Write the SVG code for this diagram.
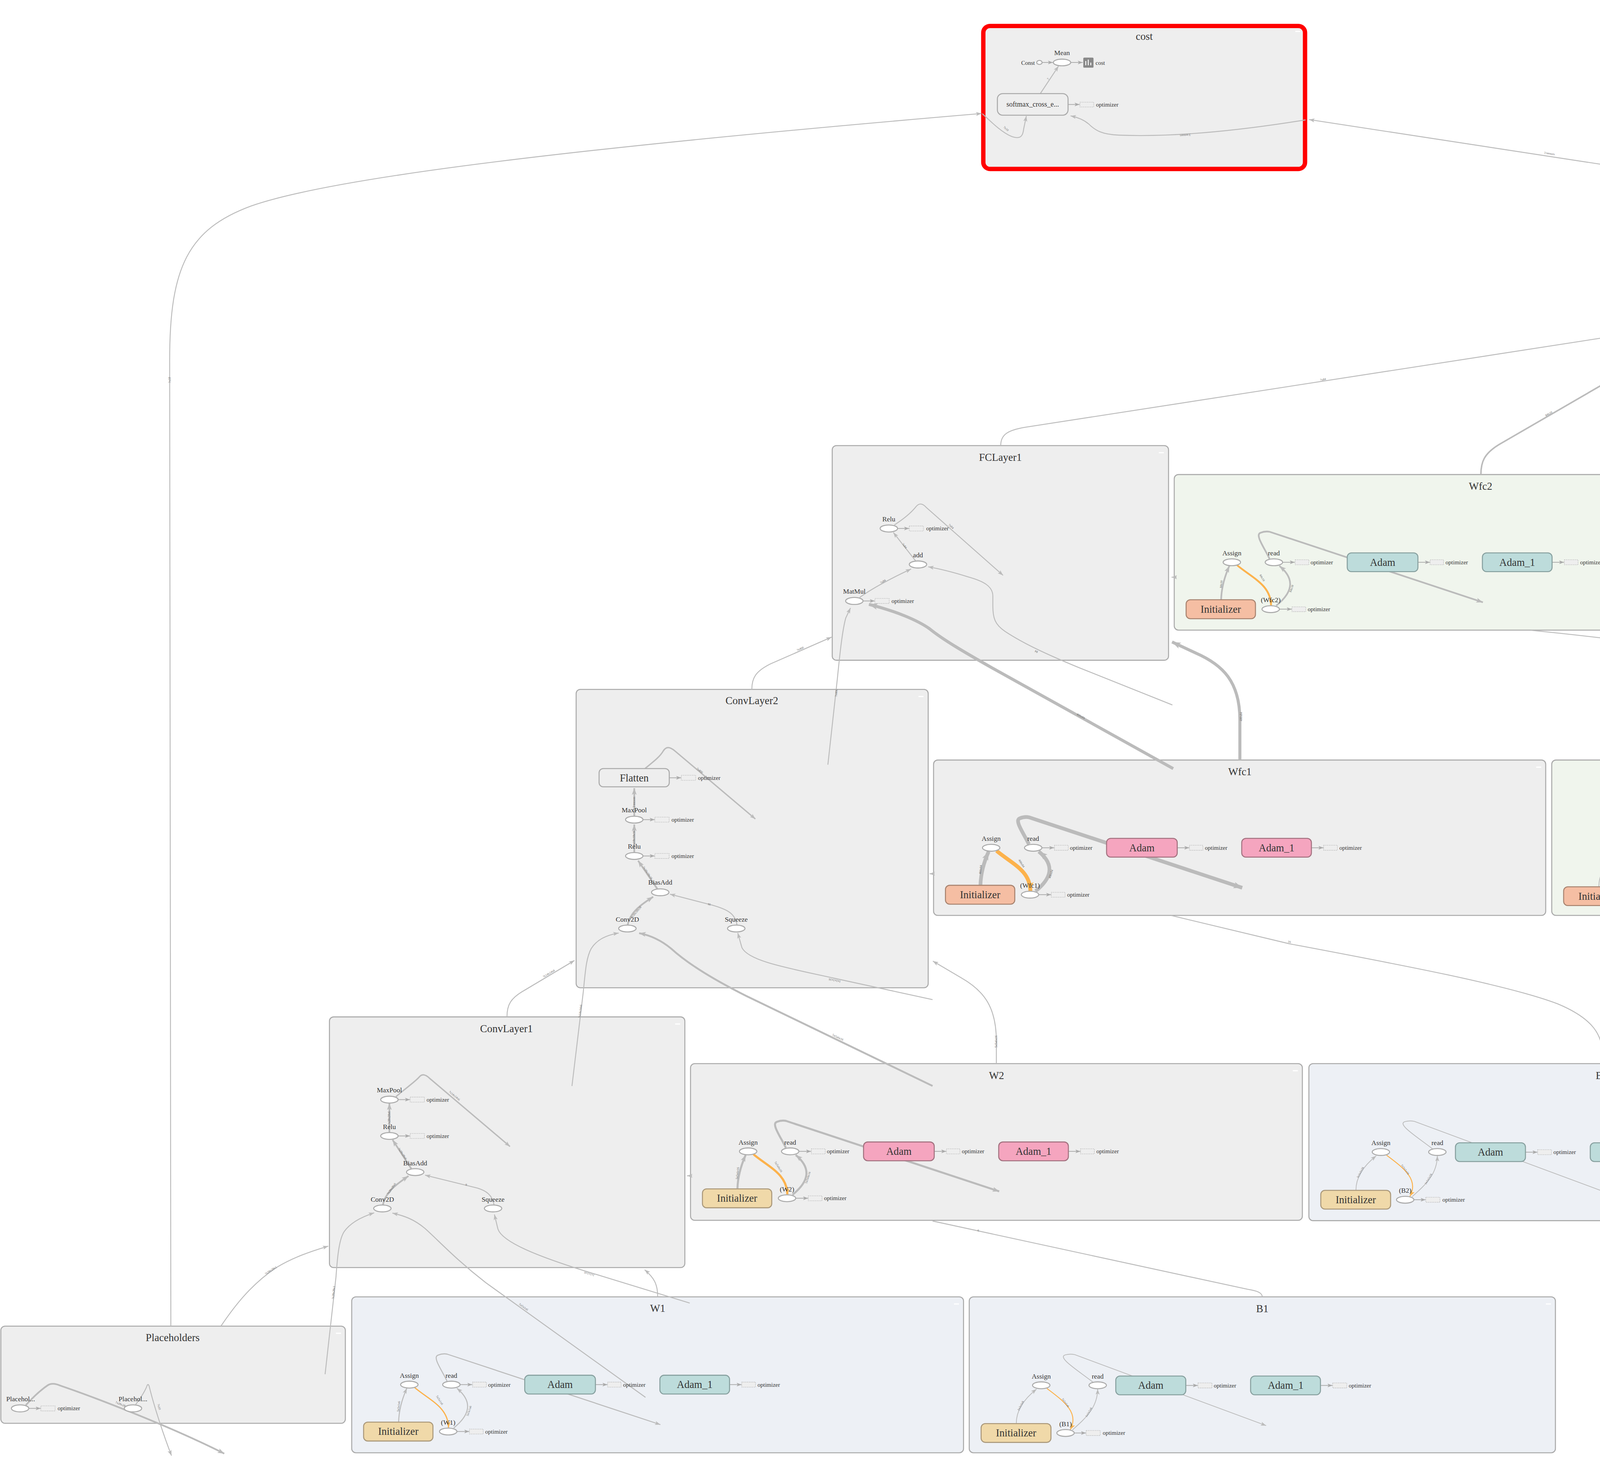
<svg xmlns="http://www.w3.org/2000/svg" width="6723" height="3782" viewBox="0 0 6723 3782">
<style>
text{font-family:"Liberation Serif","Times New Roman",serif}
.g0{fill:#eeeeee;stroke:#aaaaaa;stroke-width:0.6}
.gg{fill:#f0f5ed;stroke:#aaaaaa;stroke-width:0.6}
.gb{fill:#edf0f5;stroke:#aaaaaa;stroke-width:0.6}
.ttl{font-size:6.3px;fill:#333;text-anchor:middle}
.mi{fill:#ffffff}
.op{fill:#ffffff;stroke:#aaaaaa;stroke-width:0.6}
.lbl{font-size:4.1px;fill:#333;text-anchor:middle}
.ann{font-size:3.5px;fill:#333}
.annr{fill:#eeeeee;stroke:#b8b8b8;stroke-width:0.3;stroke-dasharray:0.6 0.45}
.mn{font-size:6.2px;fill:#333;text-anchor:middle}
.meta{fill:#eeeeee;stroke:#aaaaaa;stroke-width:0.6}
.teal{fill:#bddcdb;stroke:#87a09f;stroke-width:0.6}
.pink{fill:#f5a5bf;stroke:#a3717f;stroke-width:0.6}
.sal{fill:#f5bea3;stroke:#a8836f;stroke-width:0.6}
.tan{fill:#f0d9a9;stroke:#aa987a;stroke-width:0.6}
.e{fill:none;stroke:#bbbbbb;stroke-width:0.55}
.eo{fill:none;stroke:#fcb24c;stroke-width:0.7}
.n{fill:none;stroke:#aaaaaa;stroke-width:0.45}
.el{font-size:1.8px;fill:#666;text-anchor:middle}
.oi{font-size:3.45px;fill:#333;text-anchor:end}
</style>
<defs>
<marker id="a" viewBox="0 0 10 10" refX="10" refY="5" markerUnits="userSpaceOnUse" markerWidth="3.3" markerHeight="2.4" orient="auto" preserveAspectRatio="none"><path d="M0,0L10,5L0,10L2.5,5z" fill="#bbbbbb"/></marker>
<marker id="m" viewBox="0 0 10 10" refX="10" refY="5" markerUnits="userSpaceOnUse" markerWidth="4" markerHeight="2.9" orient="auto" preserveAspectRatio="none"><path d="M0,0L10,5L0,10L2.5,5z" fill="#bbbbbb"/></marker>
<marker id="A" viewBox="0 0 10 10" refX="10" refY="5" markerUnits="userSpaceOnUse" markerWidth="5.2" markerHeight="3.9" orient="auto" preserveAspectRatio="none"><path d="M0,0L10,5L0,10L2.5,5z" fill="#bbbbbb"/></marker>
<marker id="n" viewBox="0 0 10 10" refX="10" refY="5" markerUnits="userSpaceOnUse" markerWidth="3" markerHeight="2.2" orient="auto" preserveAspectRatio="none"><path d="M0,0L10,5L0,10L2.5,5z" fill="#aaaaaa"/></marker>
<marker id="o" viewBox="0 0 10 10" refX="10" refY="5" markerUnits="userSpaceOnUse" markerWidth="3.6" markerHeight="2.6" orient="auto" preserveAspectRatio="none"><path d="M0,0L10,5L0,10L2.5,5z" fill="#fcb24c"/></marker>
<marker id="O" viewBox="0 0 10 10" refX="10" refY="5" markerUnits="userSpaceOnUse" markerWidth="5.2" markerHeight="3.9" orient="auto" preserveAspectRatio="none"><path d="M0,0L10,5L0,10L2.5,5z" fill="#fcb24c"/></marker>
</defs>
<rect width="6723" height="3782" fill="#ffffff"/>
<g transform="scale(4.2876)">

<g id="clusters">
<g id="cluster-cost"><rect x="587.1" y="15.5" width="192.1" height="85.4" rx="4" fill="#eeeeee" stroke="#ff0000" stroke-width="2.6"/><text class="ttl" x="683.2" y="23.7">cost</text><rect class="mi" x="773.4" y="18.4" width="3" height="0.7"/></g>
<g id="cluster-FCLayer2"><rect class="g0" x="965.2" y="120.6" width="198.9" height="127.9" rx="2.5"/><text class="ttl" x="1064.6" y="129.8">FCLayer2</text><rect class="mi" x="1158.4" y="124.5" width="3" height="0.7"/></g>
<g id="cluster-FCLayer1"><rect class="g0" x="496.9" y="266.1" width="200.8" height="128.2" rx="2.5"/><text class="ttl" x="597.3" y="275.2">FCLayer1</text><rect class="mi" x="691.9" y="270" width="3" height="0.7"/></g>
<g id="cluster-ConvLayer2"><rect class="g0" x="344" y="411.7" width="210.2" height="178.2" rx="2.5"/><text class="ttl" x="448.9" y="420.6">ConvLayer2</text><rect class="mi" x="548.4" y="415.6" width="3" height="0.7"/></g>
<g id="cluster-ConvLayer1"><rect class="g0" x="196.7" y="607.3" width="212.2" height="149.7" rx="2.5"/><text class="ttl" x="302.4" y="616.4">ConvLayer1</text><rect class="mi" x="403.1" y="611.2" width="3" height="0.7"/></g>
<g id="cluster-Placeholders"><rect class="g0" x="0.5" y="792" width="205.7" height="58" rx="2.5"/><text class="ttl" x="103.1" y="801">Placeholders</text><rect class="mi" x="200.6" y="795.9" width="3" height="0.7"/></g>
<g id="cluster-Wfc2"><rect class="gg" x="701.1" y="283.4" width="365.5" height="92.9" rx="2.5"/><text class="ttl" x="884" y="292.4">Wfc2</text><rect class="mi" x="1060.9" y="287.3" width="3" height="0.7"/></g>
<g id="cluster-bfc2"><rect class="gg" x="1070.3" y="283.4" width="350" height="92.9" rx="2.5"/><text class="ttl" x="1245.3" y="292.6">bfc2</text><rect class="mi" x="1414.6" y="287.3" width="3" height="0.7"/></g>
<g id="cluster-Wfc1"><rect class="g0" x="557.4" y="453.9" width="365.5" height="92.8" rx="2.5"/><text class="ttl" x="740.3" y="462.9">Wfc1</text><rect class="mi" x="917.2" y="457.8" width="3" height="0.7"/></g>
<g id="cluster-bfc1"><rect class="gg" x="926.5" y="453.9" width="350.5" height="92.8" rx="2.5"/><text class="ttl" x="1101.7" y="463.1">bfc1</text><rect class="mi" x="1271.3" y="457.8" width="3" height="0.7"/></g>
<g id="cluster-W2"><rect class="g0" x="412.3" y="635.2" width="365.3" height="93.6" rx="2.5"/><text class="ttl" x="595" y="644.3">W2</text><rect class="mi" x="771.9" y="639.1" width="3" height="0.7"/></g>
<g id="cluster-B2"><rect class="gb" x="781.5" y="635.2" width="349.8" height="93.8" rx="2.5"/><text class="ttl" x="956.4" y="644.5">B2</text><rect class="mi" x="1125.6" y="639.1" width="3" height="0.7"/></g>
<g id="cluster-W1"><rect class="gb" x="210" y="774.5" width="365.3" height="93.1" rx="2.5"/><text class="ttl" x="392.7" y="783.5">W1</text><rect class="mi" x="569.6" y="778.4" width="3" height="0.7"/></g>
<g id="cluster-B1"><rect class="gb" x="578.7" y="774.5" width="350" height="93.1" rx="2.5"/><text class="ttl" x="753.7" y="783.7">B1</text><rect class="mi" x="923" y="778.4" width="3" height="0.7"/></g>
</g>

<g id="connectors">
<path class="e" d="M102,792L101.3,215C101.3,160 112,137 150,123C190,109 300,92 586,67.8" marker-end="url(#a)"/>
<text class="el" transform="translate(101.9,227) rotate(-90)">?x10</text>
<path class="e" d="M131.9,792C140,780 150,767 165,757C175,751 185,747.5 196,744.2" marker-end="url(#a)"/>
<text class="el" transform="translate(162,759.2) rotate(-33)">?x28x28x1</text>
<path class="e" d="M302.7,607.3C302.7,600 305,596 313,591.5L343,573.6" marker-end="url(#a)"/>
<text class="el" transform="translate(328,581.9) rotate(-31)">?x14x14x6</text>
<path class="e" d="M448.9,411.7C448.9,405 451,401 460,396.5L496.5,380.5" marker-end="url(#a)"/>
<text class="el" transform="translate(478,388) rotate(-24)">?x400</text>
<path class="e" d="M597.5,266.1C597.5,260 601,257 612,255.2L964.5,200.6" marker-end="url(#a)"/>
<text class="el" transform="translate(790,227.2) rotate(-8.8)">?x84</text>
<path class="e" d="M1064.5,120.6C1064.5,116 1062,114.5 1055,113.3L781.6,71.4" marker-end="url(#a)"/>
<text class="el" transform="translate(925,92.2) rotate(8.7)">3 tensors</text>
<path class="e" style="stroke-width:0.9" d="M884.2,283.4C884.2,276 886,271 895,265.5L964.4,225.3" marker-end="url(#m)"/>
<text class="el" transform="translate(925,247.6) rotate(-30)">84x10</text>
<path class="e" d="M1245.3,283.4C1245.3,273 1241,267 1230,261L1166,225.4" marker-end="url(#a)"/>
<text class="el" transform="translate(1200,243.9) rotate(29)">10</text>
<path class="e" style="stroke-width:1.2" d="M962.9,301.7C975,285 1005,248 1014,234C1019,226 1012,222 983.6,215.4" marker-end="url(#m)"/>
<text class="el" transform="translate(1002.5,250.3) rotate(-55)">84x10</text>
<path class="e" d="M962.5,278C965,262 970,238 972.5,228C973.5,223 974.8,219.5 975.9,216.5" marker-end="url(#a)"/>
<text class="el" transform="translate(968.6,247) rotate(-79)">?x84</text>
<path class="e" d="M1167.5,301.5L1080.4,245.1C1068,237 1059.6,231 1059.6,222L1059.5,214C1059.5,207 1052,204 1038,199.6C1025,196 1013,194 1005.1,193.3" marker-end="url(#a)"/>
<text class="el" transform="translate(1080.4,245.4) rotate(213)">10</text>
<path class="e" d="M700,421L644.4,398.8C628,392 612,385 600,377C594,373 592.8,369 592.8,362L592.8,356C592.8,350 587,347 578,344.5C570,342 560,339.5 554.2,338.5" marker-end="url(#a)"/>
<text class="el" transform="translate(619,388.6) rotate(205)">84</text>
<path class="e" style="stroke-width:1.8" d="M700.5,459L592.2,398.8C575,389 563,382 555,375.5C548,370.5 535,365 518.8,360.9" marker-end="url(#A)"/>
<text class="el" transform="translate(645,428.2) rotate(29)">400x84</text>
<path class="e" d="M494.3,456.7L500,405C501.5,390 503,376 505,369L507.8,363.1" marker-end="url(#a)"/>
<text class="el" transform="translate(499.9,414) rotate(-84)">?x400</text>
<path class="e" style="stroke-width:1.8" d="M740.3,453.9L740.3,430C740.3,407 730,397 714,390L699.8,383.4" marker-end="url(#A)"/>
<text class="el" transform="translate(741.6,428) rotate(-90)">400x84</text>
<path class="e" d="M1101.7,453.9L1101.7,444C1101.7,425 1090,412 1065,401C1035,390 970,382 914,376.4"/>
<text class="el" transform="translate(1000,385.4) rotate(7)">84</text>
<path class="e" d="M702.5,344.7L699.5,344.7" marker-end="url(#a)"/>
<path class="e" d="M956.5,635.2L956.5,628C956.5,616 948,607 930,599.5C900,588 830,575 769.7,563.6L699.5,546.8"/>
<text class="el" transform="translate(769.7,563) rotate(13.5)">16</text>
<path class="e" d="M558,521.8L555,521.8" marker-end="url(#a)"/>
<path class="e" d="M594.9,635.2L594.9,622C594.9,602 588,592 574,584L557,574" marker-end="url(#a)"/>
<text class="el" transform="translate(595.5,622) rotate(-90)">5x5x6x16</text>
<path class="e" style="stroke-width:1.1" d="M556.8,648.5L445.4,594.7C425,584.5 410,575 400.6,566.4C394,561 388,558.5 381.6,557.3" marker-end="url(#m)"/>
<text class="el" transform="translate(500,620) rotate(25.8)">5x5x6x16</text>
<path class="e" d="M556.8,597L498.5,584.3C470,578 447,574 443,566L440.5,557.2" marker-end="url(#a)"/>
<text class="el" transform="translate(498.5,585) rotate(192)">1x1x1x16</text>
<path class="e" d="M341.5,648.6L348.3,592C349.5,580 350,572 353,566.5C356.5,561 362,558.5 369.4,557.2" marker-end="url(#a)"/>
<text class="el" transform="translate(347,604) rotate(-83)">?x14x14x6</text>
<path class="e" d="M194.1,820.7L200.6,762.7C201.5,750 202.5,740 205.5,735.5C209,730.5 215,727 223.4,724.3" marker-end="url(#a)"/>
<text class="el" transform="translate(199.7,772) rotate(-84)">?x28x28x1</text>
<path class="e" style="stroke-width:0.6" d="M385.4,834.5L290,766C272,752 262,741 253.7,733.6C247,728 241,726 234.3,724.5" marker-end="url(#a)"/>
<text class="el" transform="translate(312.3,781) rotate(36)">5x5x1x6</text>
<path class="e" d="M411.8,778.2L348.8,758.9C322,750.5 300,742 297.3,734L295.2,725.3" marker-end="url(#a)"/>
<text class="el" transform="translate(352,760.3) rotate(197)">1x1x1x6</text>
<path class="e" d="M392.7,774.5C392.7,767 390.5,763 384.9,758.3" marker-end="url(#a)"/>
<path class="e" d="M753.7,774.5C753.5,772 751,771 745,770L556.8,729.2"/>
<text class="el" transform="translate(584,735.4) rotate(12)">6</text>
<path class="e" d="M413.2,702.2L410.2,702.2" marker-end="url(#a)"/>

<path class="e" d="M586.5,67.9C592,73 598,79 604,81.5C609.5,83.5 610.8,81 611.2,77L612.8,69.3" marker-end="url(#a)"/>
<text class="el" transform="translate(600.3,77.3) rotate(42)">?x10</text>
<path class="e" d="M779.5,71.6C740,78 700,82 668,80.7C658,80.3 654,78 650,74C647,71.5 643,70 639.2,69.2" marker-end="url(#a)"/>
<text class="el" transform="translate(707.6,80.2) rotate(175)">3 tensors</text>
<path class="e" d="M621.2,55.8L632,39.5" marker-end="url(#a)"/>
<text class="el" transform="translate(626.2,47.4) rotate(-56)">?</text>
<path class="n" d="M622.3,37.3H628.7" marker-end="url(#n)"/>
<path class="n" d="M639.4,37.3H646.5" marker-end="url(#n)"/>
<path class="n" d="M637.8,62.4H644.6" marker-end="url(#n)"/>

<path class="e" d="M980.5,211.5C988,205.5 995,200 997,194.1" marker-end="url(#a)"/>
<text class="el" transform="translate(990.5,203.3) rotate(-45)">?x10</text>
<path class="e" d="M999.5,189.7C1004,183 1010,177.5 1015.8,172.6" marker-end="url(#a)"/>
<text class="el" transform="translate(1005.5,180.3) rotate(-52)">?x10</text>
<path class="e" d="M1003.4,189.6C1018,183.5 1028.8,178 1028.8,168L1028.8,156L1065.5,198.2" marker-end="url(#a)"/>
<text class="el" transform="translate(1032.6,160.2) rotate(49)">3 tensors</text>
<path class="n" d="M1008.2,170.2H1014.7" marker-end="url(#n)"/>
<path class="n" d="M1003.4,191.8H1010.4" marker-end="url(#n)"/>
<path class="n" d="M982.8,213.4H989.8" marker-end="url(#n)"/>

<path class="e" d="M513.3,356.8C522,350.5 534,344.5 544,339.8" marker-end="url(#a)"/>
<text class="el" transform="translate(527.5,347.8) rotate(-30)">?x84</text>
<path class="e" d="M546.7,335L533.4,318" marker-end="url(#a)"/>
<text class="el" transform="translate(539.6,326.3) rotate(52)">?x84</text>
<path class="e" d="M534,313.5C541,309 545,305 547,302.5C548.8,300.3 550.8,300.6 553,303L598.9,343.6" marker-end="url(#a)"/>
<text class="el" transform="translate(567.5,314.8) rotate(41.5)">?x84</text>
<path class="n" d="M536,315.6H542.8" marker-end="url(#n)"/>
<path class="n" d="M515.4,358.9H522.3" marker-end="url(#n)"/>

<path class="e" style="stroke-width:1" d="M378.7,487.3V470.7" marker-end="url(#m)"/>
<text class="el" transform="translate(379.3,479) rotate(-90)">3 tensors</text>
<path class="e" style="stroke-width:1" d="M378.7,509V492.4" marker-end="url(#m)"/>
<text class="el" transform="translate(379.3,500.6) rotate(-90)">?x10x10x16</text>
<path class="e" style="stroke-width:1" d="M392.5,530.9L381,514" marker-end="url(#m)"/>
<text class="el" transform="translate(386.2,521.6) rotate(56)">?x10x10x16</text>
<path class="e" style="stroke-width:1" d="M374.8,552.4C376,545 383,540 390,535.6" marker-end="url(#m)"/>
<text class="el" transform="translate(380.2,545.2) rotate(-50)">?x10x10x16</text>
<path class="e" d="M440,552.3C439,545.5 434,543 425,540.5L400,534" marker-end="url(#a)"/>
<text class="el" transform="translate(423.7,539.6) rotate(195)">16</text>
<path class="e" style="stroke-width:0.8" d="M385.2,458.9C390,455 394,452 396,448.5C397.8,445.6 400,446 403,448.5L451,489.1" marker-end="url(#a)"/>
<text class="el" transform="translate(417.4,460.6) rotate(40)">?x400</text>
<path class="n" d="M399.6,464.5H406.7" marker-end="url(#n)"/>
<path class="n" d="M383.9,489.5H390.9" marker-end="url(#n)"/>
<path class="n" d="M383.9,511.2H390.9" marker-end="url(#n)"/>

<path class="e" style="stroke-width:1" d="M232.5,676.2V658.9" marker-end="url(#m)"/>
<text class="el" transform="translate(233.1,667.6) rotate(-90)">?x28x28x6</text>
<path class="e" style="stroke-width:1" d="M245.6,698L234.4,680.7" marker-end="url(#m)"/>
<text class="el" transform="translate(239.8,689.3) rotate(57)">?x28x28x6</text>
<path class="e" style="stroke-width:1" d="M228.6,719.6C230,712 237,707 243.9,702.3" marker-end="url(#m)"/>
<text class="el" transform="translate(234.2,710.3) rotate(-55)">?x28x28x6</text>
<path class="e" d="M295,719.6C294,713.5 290,711 285,709.5L253.8,701.8" marker-end="url(#a)"/>
<text class="el" transform="translate(278.5,707) rotate(195)">6</text>
<path class="e" style="stroke-width:0.8" d="M236.4,655C242,650 248,646 250.5,643C252,641.3 254,641.6 256.3,643.8L304.5,684.7" marker-end="url(#a)"/>
<text class="el" transform="translate(271,654.8) rotate(40)">?x14x14x6</text>
<path class="n" d="M237.7,656.7H244.8" marker-end="url(#n)"/>
<path class="n" d="M237.7,678.4H244.8" marker-end="url(#n)"/>

<path class="e" style="stroke-width:1" d="M15.4,839.2C21,833 26,829 28.5,827.3C30.5,826 33,826.2 36,827.5C55,834 100,851 133.9,868.1" marker-end="url(#m)"/>
<text class="el" transform="translate(72.5,839.4) rotate(22)">?x28x28x1</text>
<path class="e" d="M81,838.8C84,835 87,830 87.8,827.5C88.2,826.4 88.7,826.7 89.1,828C92,840 98,858 102.4,869.3" marker-end="url(#a)"/>
<text class="el" transform="translate(94.4,840.3) rotate(76)">?x10</text>
<path class="n" d="M17.2,841.1H24.3" marker-end="url(#n)"/>

<path class="n" d="M1490.4,15.95L1497.1,16.9" marker-end="url(#n)"/>
<path class="n" d="M1490.4,20.8L1497.1,21.2" marker-end="url(#n)"/>
<path class="n" d="M1490.4,25.66L1497.1,25.1" marker-end="url(#n)"/>
<path class="n" d="M1490.4,30.55L1497.1,28.6" marker-end="url(#n)"/>
<path class="n" d="M1490.4,35.3L1497.1,32.6" marker-end="url(#n)"/>
<path class="n" d="M1490.7,39.1L1497.1,36.4" marker-end="url(#n)"/>

<g id="edges-Wfc2" transform="translate(701.1,283.4)">
<path class="e" style="stroke-width:1" d="M28,74.8C28.2,67 30.5,60 32.9,54.6" marker-end="url(#m)"/>
<path class="eo" style="stroke-width:1.1" d="M37.6,54.2C47,62 57.6,66 57.8,78.1" marker-end="url(#o)"/>
<path class="e" style="stroke-width:1" d="M60.9,78.3C70,71 73,63 62.8,54.6" marker-end="url(#m)"/>
<path class="e" style="stroke-width:1" d="M56.9,50.3C54,44 48,36 51.5,34.8C53,34.2 55,33.8 57,34.2L184.3,76.3" marker-end="url(#m)"/>
<path class="n" d="M64.8,52.4H72" marker-end="url(#n)"/>
<path class="n" d="M145.5,52.4H152.7" marker-end="url(#n)"/>
<path class="n" d="M225.6,52.4H232.8" marker-end="url(#n)"/>
<path class="n" d="M62.9,80.4H70.2" marker-end="url(#n)"/>
<text class="el" transform="translate(28.6,65.5) rotate(-84)">84x10</text>
<text class="el" transform="translate(52,62) rotate(58)">84x10</text>
<text class="el" transform="translate(70.6,68.3) rotate(-72)">84x10</text>
</g>
<g id="edges-Wfc1" transform="translate(557.4,453.9)">
<path class="e" style="stroke-width:2.2" d="M28,74.8C28.2,67 30.5,60 32.9,54.6" marker-end="url(#A)"/>
<path class="eo" style="stroke-width:2.3" d="M37.6,54.2C47,62 57.6,66 57.8,78.1" marker-end="url(#O)"/>
<path class="e" style="stroke-width:2.2" d="M60.9,78.3C70,71 73,63 62.8,54.6" marker-end="url(#A)"/>
<path class="e" style="stroke-width:2.2" d="M56.9,50.3C54,44 48,36 51.5,34.8C53,34.2 55,33.8 57,34.2L184.3,76.3" marker-end="url(#A)"/>
<path class="n" d="M64.8,52.4H72" marker-end="url(#n)"/>
<path class="n" d="M145.5,52.4H152.7" marker-end="url(#n)"/>
<path class="n" d="M225.6,52.4H232.8" marker-end="url(#n)"/>
<path class="n" d="M62.9,80.4H70.2" marker-end="url(#n)"/>
<text class="el" transform="translate(28.6,65.5) rotate(-84)">400x84</text>
<text class="el" transform="translate(52,62) rotate(58)">400x84</text>
<text class="el" transform="translate(70.6,68.3) rotate(-72)">400x84</text>
</g>
<g id="edges-W2" transform="translate(412.3,635.2)">
<path class="e" style="stroke-width:1.2" d="M28,74.8C28.2,67 30.5,60 32.9,54.6" marker-end="url(#m)"/>
<path class="eo" style="stroke-width:1.3" d="M37.6,54.2C47,62 57.6,66 57.8,78.1" marker-end="url(#o)"/>
<path class="e" style="stroke-width:1.2" d="M60.9,78.3C70,71 73,63 62.8,54.6" marker-end="url(#m)"/>
<path class="e" style="stroke-width:1.2" d="M56.9,50.3C54,44 48,36 51.5,34.8C53,34.2 55,33.8 57,34.2L184.3,76.3" marker-end="url(#m)"/>
<path class="n" d="M64.8,52.4H72" marker-end="url(#n)"/>
<path class="n" d="M145.5,52.4H152.7" marker-end="url(#n)"/>
<path class="n" d="M225.6,52.4H232.8" marker-end="url(#n)"/>
<path class="n" d="M62.9,80.4H70.2" marker-end="url(#n)"/>
<text class="el" transform="translate(28.6,65.5) rotate(-84)">5x5x6x16</text>
<text class="el" transform="translate(52,62) rotate(58)">5x5x6x16</text>
<text class="el" transform="translate(70.6,68.3) rotate(-72)">5x5x6x16</text>
</g>
<g id="edges-W1" transform="translate(210,774.5)">
<path class="e" style="stroke-width:0.6" d="M28,74.8C28.2,67 30.5,60 32.9,54.6" marker-end="url(#a)"/>
<path class="eo" style="stroke-width:0.7" d="M37.6,54.2C47,62 57.6,66 57.8,78.1" marker-end="url(#o)"/>
<path class="e" style="stroke-width:0.6" d="M60.9,78.3C70,71 73,63 62.8,54.6" marker-end="url(#a)"/>
<path class="e" style="stroke-width:0.6" d="M56.9,50.3C54,44 48,36 51.5,34.8C53,34.2 55,33.8 57,34.2L184.3,76.3" marker-end="url(#a)"/>
<path class="n" d="M64.8,52.4H72" marker-end="url(#n)"/>
<path class="n" d="M145.5,52.4H152.7" marker-end="url(#n)"/>
<path class="n" d="M225.6,52.4H232.8" marker-end="url(#n)"/>
<path class="n" d="M62.9,80.4H70.2" marker-end="url(#n)"/>
<text class="el" transform="translate(28.6,65.5) rotate(-84)">5x5x1x6</text>
<text class="el" transform="translate(52,62) rotate(58)">5x5x1x6</text>
<text class="el" transform="translate(70.6,68.3) rotate(-72)">5x5x1x6</text>
</g>

<g id="edges-bfc2" transform="translate(1070.3,283.4)">
<path class="e" style="stroke-width:0.45" d="M28.1,75.7C28,67 34,60 40.2,55.1" marker-end="url(#a)"/>
<path class="eo" style="stroke-width:0.55" d="M46.4,54.7C56,62 66,69 60.3,79.3" marker-end="url(#o)"/>
<path class="e" style="stroke-width:0.45" d="M61.6,79.5C70,72 76.5,66 76.7,55.1" marker-end="url(#a)"/>
<path class="e" style="stroke-width:0.45" d="M73.8,50.9C65,44 52,36 57.5,34.6C59.5,34.1 61,34.1 63,34.5L177.3,76.9" marker-end="url(#a)"/>
<path class="n" d="M129.3,52.9H136.5" marker-end="url(#n)"/>
<path class="n" d="M209.7,52.9H216.9" marker-end="url(#n)"/>
<path class="n" d="M62.7,81.3H69.7" marker-end="url(#n)"/>
<text class="el" transform="translate(31.2,65.3) rotate(-62)">10</text>
<text class="el" transform="translate(57,63.5) rotate(55)">10</text>
<text class="el" transform="translate(71.8,69.2) rotate(-60)">10</text>
</g>
<g id="edges-bfc1" transform="translate(926.5,453.9)">
<path class="e" style="stroke-width:0.45" d="M28.1,75.7C28,67 34,60 40.2,55.1" marker-end="url(#a)"/>
<path class="eo" style="stroke-width:0.55" d="M46.4,54.7C56,62 66,69 60.3,79.3" marker-end="url(#o)"/>
<path class="e" style="stroke-width:0.45" d="M61.6,79.5C70,72 76.5,66 76.7,55.1" marker-end="url(#a)"/>
<path class="e" style="stroke-width:0.45" d="M73.8,50.9C65,44 52,36 57.5,34.6C59.5,34.1 61,34.1 63,34.5L177.3,76.9" marker-end="url(#a)"/>
<path class="n" d="M129.3,52.9H136.5" marker-end="url(#n)"/>
<path class="n" d="M209.7,52.9H216.9" marker-end="url(#n)"/>
<path class="n" d="M62.7,81.3H69.7" marker-end="url(#n)"/>
<text class="el" transform="translate(31.2,65.3) rotate(-62)">84</text>
<text class="el" transform="translate(57,63.5) rotate(55)">84</text>
<text class="el" transform="translate(71.8,69.2) rotate(-60)">84</text>
</g>
<g id="edges-B2" transform="translate(781.5,635.2)">
<path class="e" style="stroke-width:0.45" d="M28.1,75.7C28,67 34,60 40.2,55.1" marker-end="url(#a)"/>
<path class="eo" style="stroke-width:0.55" d="M46.4,54.7C56,62 66,69 60.3,79.3" marker-end="url(#o)"/>
<path class="e" style="stroke-width:0.45" d="M61.6,79.5C70,72 76.5,66 76.7,55.1" marker-end="url(#a)"/>
<path class="e" style="stroke-width:0.45" d="M73.8,50.9C65,44 52,36 57.5,34.6C59.5,34.1 61,34.1 63,34.5L177.3,76.9" marker-end="url(#a)"/>
<path class="n" d="M129.3,52.9H136.5" marker-end="url(#n)"/>
<path class="n" d="M209.7,52.9H216.9" marker-end="url(#n)"/>
<path class="n" d="M62.7,81.3H69.7" marker-end="url(#n)"/>
<text class="el" transform="translate(31.2,65.3) rotate(-62)">1x1x1x16</text>
<text class="el" transform="translate(57,63.5) rotate(55)">1x1x1x16</text>
<text class="el" transform="translate(71.8,69.2) rotate(-60)">1x1x1x16</text>
</g>
<g id="edges-B1" transform="translate(578.7,774.5)">
<path class="e" style="stroke-width:0.45" d="M28.1,75.7C28,67 34,60 40.2,55.1" marker-end="url(#a)"/>
<path class="eo" style="stroke-width:0.55" d="M46.4,54.7C56,62 66,69 60.3,79.3" marker-end="url(#o)"/>
<path class="e" style="stroke-width:0.45" d="M61.6,79.5C70,72 76.5,66 76.7,55.1" marker-end="url(#a)"/>
<path class="e" style="stroke-width:0.45" d="M73.8,50.9C65,44 52,36 57.5,34.6C59.5,34.1 61,34.1 63,34.5L177.3,76.9" marker-end="url(#a)"/>
<path class="n" d="M129.3,52.9H136.5" marker-end="url(#n)"/>
<path class="n" d="M209.7,52.9H216.9" marker-end="url(#n)"/>
<path class="n" d="M62.7,81.3H69.7" marker-end="url(#n)"/>
<text class="el" transform="translate(31.2,65.3) rotate(-62)">1x1x1x6</text>
<text class="el" transform="translate(57,63.5) rotate(55)">1x1x1x6</text>
<text class="el" transform="translate(71.8,69.2) rotate(-60)">1x1x1x6</text>
</g>
</g>

<g id="nodes">
<g id="optimizer">
<rect x="1497.2" y="13.7" width="41.5" height="26.2" rx="3.5" fill="#eeeeee" stroke="#aaaaaa" stroke-width="0.55"/>
<text x="1518" y="28.8" style="font-size:6.1px;fill:#333;text-anchor:middle">optimizer</text>
<rect x="1482.2" y="14.6" width="8.2" height="2.75" fill="#eeeeee" stroke="#ff0000" stroke-width="0.7" stroke-dasharray="0.7 0.45"/>
<text class="oi" x="1480.9" y="17.1" style="fill:#4a8af4">cost</text>
<rect class="annr" x="1482.2" y="19.4" width="8.2" height="2.75"/>
<text class="oi" x="1480.9" y="22">FCLayer2</text>
<rect class="annr" x="1482.2" y="24.3" width="8.2" height="2.75" style="fill:#c6e1b3"/>
<text class="oi" x="1480.9" y="26.9">Wfc2</text>
<rect class="annr" x="1482.2" y="29.2" width="8.2" height="2.75"/>
<text class="oi" x="1480.9" y="31.7">FCLayer1</text>
<rect class="annr" x="1482.2" y="33.9" width="8.2" height="2.75"/>
<text class="oi" x="1480.9" y="36.5">Wfc1</text>
<text class="oi" x="1489.2" y="40">... 9 more</text>
</g>

<g id="cost-Const"><ellipse class="op" cx="620.6" cy="37.3" rx="1.6" ry="1.2"/><text class="ann" x="617.9" y="38.6" text-anchor="end">Const</text></g>
<g id="cost-Mean"><ellipse class="op" cx="634.1" cy="37.3" rx="5.2" ry="2"/><text class="lbl" x="634.1" y="33">Mean</text></g>
<g id="cost-summary"><rect x="646.8" y="34.4" width="6.1" height="6" rx="0.6" fill="#888888"/><rect x="648" y="36.4" width="0.55" height="2.6" fill="#ffffff"/><rect x="649.5" y="35.6" width="0.55" height="3.4" fill="#ffffff"/><rect x="651" y="37.4" width="0.55" height="1.6" fill="#ffffff"/><text class="ann" x="654.1" y="38.6">cost</text></g>
<g id="cost-softmax"><rect class="meta" x="595.5" y="55.9" width="42.2" height="12.9" rx="3.2"/><text x="616.6" y="63.7" style="font-size:4.2px;fill:#333;text-anchor:middle">softmax_cross_e...</text><rect class="annr" x="644.8" y="61" width="8.2" height="2.9"/><text class="ann" x="654.4" y="63.6">optimizer</text></g>

<g id="FCLayer2-dimension"><ellipse class="op" cx="1006.6" cy="170.2" rx="1.5" ry="1.3"/><text class="ann" x="1003.8" y="171.4" text-anchor="end">dimension</text></g>
<g id="FCLayer2-ArgMax"><ellipse class="op" cx="1020.1" cy="170.2" rx="5.2" ry="2.1"/><text class="lbl" x="1020.1" y="165.7">ArgMax</text></g>
<g id="FCLayer2-add"><ellipse class="op" cx="998.1" cy="191.8" rx="5.2" ry="2.1"/><text class="lbl" x="998.1" y="187.3">add</text><rect class="annr" x="1010.5" y="190.3" width="8.4" height="3"/><text class="ann" x="1020.4" y="193">optimizer</text></g>
<g id="FCLayer2-MatMul"><ellipse class="op" cx="977.5" cy="213.4" rx="5.2" ry="2.1"/><text class="lbl" x="977.5" y="209">MatMul</text><rect class="annr" x="989.9" y="211.9" width="8.4" height="3"/><text class="ann" x="999.8" y="214.6">optimizer</text></g>

<g id="FCLayer1-Relu"><ellipse class="op" cx="530.7" cy="315.6" rx="5.2" ry="2.1"/><text class="lbl" x="530.7" y="311.3">Relu</text><rect class="annr" x="542.9" y="314.1" width="8.4" height="3"/><text class="ann" x="553" y="316.8">optimizer</text></g>
<g id="FCLayer1-add"><ellipse class="op" cx="548.1" cy="337.1" rx="5.2" ry="2.1"/><text class="lbl" x="548.1" y="332.8">add</text></g>
<g id="FCLayer1-MatMul"><ellipse class="op" cx="510.1" cy="358.9" rx="5.2" ry="2.1"/><text class="lbl" x="510.1" y="354.6">MatMul</text><rect class="annr" x="522.4" y="357.4" width="8.5" height="3"/><text class="ann" x="532.3" y="360.1">optimizer</text></g>

<g id="ConvLayer2-Flatten"><rect class="meta" x="357.7" y="459" width="41.9" height="10.9" rx="2.5"/><text class="mn" x="378.7" y="466.6">Flatten</text><rect class="annr" x="406.8" y="463" width="8.5" height="3"/><text class="ann" x="416.7" y="465.7">optimizer</text></g>
<g id="ConvLayer2-MaxPool"><ellipse class="op" cx="378.7" cy="489.5" rx="5.2" ry="2.05"/><text class="lbl" x="378.7" y="485.1">MaxPool</text><rect class="annr" x="391" y="488" width="8.5" height="3"/><text class="ann" x="400.9" y="490.7">optimizer</text></g>
<g id="ConvLayer2-Relu"><ellipse class="op" cx="378.7" cy="511.2" rx="5.2" ry="2.05"/><text class="lbl" x="378.7" y="506.9">Relu</text><rect class="annr" x="391" y="509.7" width="8.5" height="3"/><text class="ann" x="400.9" y="512.4">optimizer</text></g>
<g id="ConvLayer2-BiasAdd"><ellipse class="op" cx="394.2" cy="532.9" rx="5.2" ry="2.05"/><text class="lbl" x="394.2" y="528.3">BiasAdd</text></g>
<g id="ConvLayer2-Conv2D"><ellipse class="op" cx="374.6" cy="554.5" rx="5.2" ry="2.05"/><text class="lbl" x="374.6" y="550.4">Conv2D</text></g>
<g id="ConvLayer2-Squeeze"><ellipse class="op" cx="439.6" cy="554.5" rx="5.2" ry="2.05"/><text class="lbl" x="439.6" y="550.4">Squeeze</text></g>

<g id="ConvLayer1-MaxPool"><ellipse class="op" cx="232.5" cy="656.7" rx="5.2" ry="2.05"/><text class="lbl" x="232.5" y="652.4">MaxPool</text><rect class="annr" x="244.9" y="655.2" width="8.5" height="3"/><text class="ann" x="254.7" y="657.9">optimizer</text></g>
<g id="ConvLayer1-Relu"><ellipse class="op" cx="232.5" cy="678.4" rx="5.2" ry="2.05"/><text class="lbl" x="232.5" y="674.2">Relu</text><rect class="annr" x="244.9" y="676.9" width="8.5" height="3"/><text class="ann" x="254.7" y="679.6">optimizer</text></g>
<g id="ConvLayer1-BiasAdd"><ellipse class="op" cx="247.9" cy="700" rx="5.2" ry="2.05"/><text class="lbl" x="247.9" y="696">BiasAdd</text></g>
<g id="ConvLayer1-Conv2D"><ellipse class="op" cx="228.3" cy="721.7" rx="5.2" ry="2.05"/><text class="lbl" x="228.3" y="717.7">Conv2D</text></g>
<g id="ConvLayer1-Squeeze"><ellipse class="op" cx="294.4" cy="721.7" rx="5.2" ry="2.05"/><text class="lbl" x="294.4" y="717.7">Squeeze</text></g>

<g id="Placeholders-P1"><ellipse class="op" cx="12" cy="841.1" rx="5.2" ry="2.1"/><text class="lbl" x="12.3" y="836.9">Placehol...</text><rect class="annr" x="24.4" y="839.6" width="8.5" height="3"/><text class="ann" x="34.4" y="842.2">optimizer</text></g>
<g id="Placeholders-P2"><ellipse class="op" cx="79.4" cy="841.1" rx="5.2" ry="2.1"/><text class="lbl" x="79.4" y="836.9">Placehol...</text></g>

<g id="nodes-Wfc2" transform="translate(701.1,283.4)">
<g id="Wfc2-Assign"><ellipse class="op" cx="34.4" cy="52.4" rx="5.2" ry="2.05"/><text class="lbl" x="34.4" y="48.3">Assign</text></g>
<g id="Wfc2-read"><ellipse class="op" cx="59.5" cy="52.4" rx="5.2" ry="2.05"/><text class="lbl" x="59.5" y="48.3">read</text><rect class="annr" x="72.2" y="50.9" width="8.2" height="3"/><text class="ann" x="81.4" y="53.6">optimizer</text></g>
<g id="Wfc2-Adam"><rect class="teal" x="103.3" y="46.8" width="42.2" height="11.2" rx="2.5"/><text class="mn" x="124.4" y="54.5">Adam</text><rect class="annr" x="152.8" y="50.9" width="8" height="3"/><text class="ann" x="162" y="53.6">optimizer</text></g>
<g id="Wfc2-Adam_1"><rect class="teal" x="184" y="46.8" width="41.6" height="11.2" rx="2.5"/><text class="mn" x="204.8" y="54.5">Adam_1</text><rect class="annr" x="232.9" y="50.9" width="8.2" height="3"/><text class="ann" x="242.3" y="53.6">optimizer</text></g>
<g id="Wfc2-Initializer"><rect class="sal" x="7.1" y="74.8" width="41.4" height="11.3" rx="2.5"/><text class="mn" x="27.8" y="82.5">Initializer</text></g>
<g id="Wfc2-var"><ellipse class="op" cx="57.6" cy="80.4" rx="5.2" ry="2.05"/><text class="lbl" x="57.6" y="76.3">(Wfc2)</text><rect class="annr" x="70.3" y="79" width="8.2" height="2.9"/><text class="ann" x="79.7" y="81.6">optimizer</text></g>
</g>
<g id="nodes-Wfc1" transform="translate(557.4,453.9)">
<g id="Wfc1-Assign"><ellipse class="op" cx="34.4" cy="52.4" rx="5.2" ry="2.05"/><text class="lbl" x="34.4" y="48.3">Assign</text></g>
<g id="Wfc1-read"><ellipse class="op" cx="59.5" cy="52.4" rx="5.2" ry="2.05"/><text class="lbl" x="59.5" y="48.3">read</text><rect class="annr" x="72.2" y="50.9" width="8.2" height="3"/><text class="ann" x="81.4" y="53.6">optimizer</text></g>
<g id="Wfc1-Adam"><rect class="pink" x="103.3" y="46.8" width="42.2" height="11.2" rx="2.5"/><text class="mn" x="124.4" y="54.5">Adam</text><rect class="annr" x="152.8" y="50.9" width="8" height="3"/><text class="ann" x="162" y="53.6">optimizer</text></g>
<g id="Wfc1-Adam_1"><rect class="pink" x="184" y="46.8" width="41.6" height="11.2" rx="2.5"/><text class="mn" x="204.8" y="54.5">Adam_1</text><rect class="annr" x="232.9" y="50.9" width="8.2" height="3"/><text class="ann" x="242.3" y="53.6">optimizer</text></g>
<g id="Wfc1-Initializer"><rect class="sal" x="7.1" y="74.8" width="41.4" height="11.3" rx="2.5"/><text class="mn" x="27.8" y="82.5">Initializer</text></g>
<g id="Wfc1-var"><ellipse class="op" cx="57.6" cy="80.4" rx="5.2" ry="2.05"/><text class="lbl" x="57.6" y="76.3">(Wfc1)</text><rect class="annr" x="70.3" y="79" width="8.2" height="2.9"/><text class="ann" x="79.7" y="81.6">optimizer</text></g>
</g>
<g id="nodes-W2" transform="translate(412.3,635.2)">
<g id="W2-Assign"><ellipse class="op" cx="34.4" cy="52.4" rx="5.2" ry="2.05"/><text class="lbl" x="34.4" y="48.3">Assign</text></g>
<g id="W2-read"><ellipse class="op" cx="59.5" cy="52.4" rx="5.2" ry="2.05"/><text class="lbl" x="59.5" y="48.3">read</text><rect class="annr" x="72.2" y="50.9" width="8.2" height="3"/><text class="ann" x="81.4" y="53.6">optimizer</text></g>
<g id="W2-Adam"><rect class="pink" x="103.3" y="46.8" width="42.2" height="11.2" rx="2.5"/><text class="mn" x="124.4" y="54.5">Adam</text><rect class="annr" x="152.8" y="50.9" width="8" height="3"/><text class="ann" x="162" y="53.6">optimizer</text></g>
<g id="W2-Adam_1"><rect class="pink" x="184" y="46.8" width="41.6" height="11.2" rx="2.5"/><text class="mn" x="204.8" y="54.5">Adam_1</text><rect class="annr" x="232.9" y="50.9" width="8.2" height="3"/><text class="ann" x="242.3" y="53.6">optimizer</text></g>
<g id="W2-Initializer"><rect class="tan" x="7.1" y="74.8" width="41.4" height="11.3" rx="2.5"/><text class="mn" x="27.8" y="82.5">Initializer</text></g>
<g id="W2-var"><ellipse class="op" cx="57.6" cy="80.4" rx="5.2" ry="2.05"/><text class="lbl" x="57.6" y="76.3">(W2)</text><rect class="annr" x="70.3" y="79" width="8.2" height="2.9"/><text class="ann" x="79.7" y="81.6">optimizer</text></g>
</g>
<g id="nodes-W1" transform="translate(210,774.5)">
<g id="W1-Assign"><ellipse class="op" cx="34.4" cy="52.4" rx="5.2" ry="2.05"/><text class="lbl" x="34.4" y="48.3">Assign</text></g>
<g id="W1-read"><ellipse class="op" cx="59.5" cy="52.4" rx="5.2" ry="2.05"/><text class="lbl" x="59.5" y="48.3">read</text><rect class="annr" x="72.2" y="50.9" width="8.2" height="3"/><text class="ann" x="81.4" y="53.6">optimizer</text></g>
<g id="W1-Adam"><rect class="teal" x="103.3" y="46.8" width="42.2" height="11.2" rx="2.5"/><text class="mn" x="124.4" y="54.5">Adam</text><rect class="annr" x="152.8" y="50.9" width="8" height="3"/><text class="ann" x="162" y="53.6">optimizer</text></g>
<g id="W1-Adam_1"><rect class="teal" x="184" y="46.8" width="41.6" height="11.2" rx="2.5"/><text class="mn" x="204.8" y="54.5">Adam_1</text><rect class="annr" x="232.9" y="50.9" width="8.2" height="3"/><text class="ann" x="242.3" y="53.6">optimizer</text></g>
<g id="W1-Initializer"><rect class="tan" x="7.1" y="74.8" width="41.4" height="11.3" rx="2.5"/><text class="mn" x="27.8" y="82.5">Initializer</text></g>
<g id="W1-var"><ellipse class="op" cx="57.6" cy="80.4" rx="5.2" ry="2.05"/><text class="lbl" x="57.6" y="76.3">(W1)</text><rect class="annr" x="70.3" y="79" width="8.2" height="2.9"/><text class="ann" x="79.7" y="81.6">optimizer</text></g>
</g>

<g id="nodes-bfc2" transform="translate(1070.3,283.4)">
<g id="bfc2-Assign"><ellipse class="op" cx="43" cy="52.8" rx="5.2" ry="2.05"/><text class="lbl" x="43" y="48.7">Assign</text></g>
<g id="bfc2-read"><ellipse class="op" cx="76.7" cy="52.8" rx="5.2" ry="2.05"/><text class="lbl" x="76.7" y="48.7">read</text></g>
<g id="bfc2-Adam"><rect class="teal" x="87.5" y="47.3" width="41.8" height="11.2" rx="2.5"/><text class="mn" x="108.4" y="54.95">Adam</text><rect class="annr" x="136.6" y="51.4" width="8.3" height="3"/><text class="ann" x="146" y="54.1">optimizer</text></g>
<g id="bfc2-Adam_1"><rect class="teal" x="168" y="47.3" width="41.7" height="11.2" rx="2.5"/><text class="mn" x="188.9" y="54.95">Adam_1</text><rect class="annr" x="217" y="51.4" width="8.4" height="3"/><text class="ann" x="226.6" y="54.1">optimizer</text></g>
<g id="bfc2-Initializer"><rect class="sal" x="7.1" y="75.7" width="41.7" height="11.2" rx="2.5"/><text class="mn" x="28" y="83.35">Initializer</text></g>
<g id="bfc2-var"><ellipse class="op" cx="57.5" cy="81.3" rx="5.2" ry="2.05"/><text class="lbl" x="57.5" y="77.2">(bfc2)</text><rect class="annr" x="69.8" y="79.8" width="8.4" height="3"/><text class="ann" x="79.7" y="82.5">optimizer</text></g>
</g>
<g id="nodes-bfc1" transform="translate(926.5,453.9)">
<g id="bfc1-Assign"><ellipse class="op" cx="43" cy="52.8" rx="5.2" ry="2.05"/><text class="lbl" x="43" y="48.7">Assign</text></g>
<g id="bfc1-read"><ellipse class="op" cx="76.7" cy="52.8" rx="5.2" ry="2.05"/><text class="lbl" x="76.7" y="48.7">read</text></g>
<g id="bfc1-Adam"><rect class="teal" x="87.5" y="47.3" width="41.8" height="11.2" rx="2.5"/><text class="mn" x="108.4" y="54.95">Adam</text><rect class="annr" x="136.6" y="51.4" width="8.3" height="3"/><text class="ann" x="146" y="54.1">optimizer</text></g>
<g id="bfc1-Adam_1"><rect class="teal" x="168" y="47.3" width="41.7" height="11.2" rx="2.5"/><text class="mn" x="188.9" y="54.95">Adam_1</text><rect class="annr" x="217" y="51.4" width="8.4" height="3"/><text class="ann" x="226.6" y="54.1">optimizer</text></g>
<g id="bfc1-Initializer"><rect class="sal" x="7.1" y="75.7" width="41.7" height="11.2" rx="2.5"/><text class="mn" x="28" y="83.35">Initializer</text></g>
<g id="bfc1-var"><ellipse class="op" cx="57.5" cy="81.3" rx="5.2" ry="2.05"/><text class="lbl" x="57.5" y="77.2">(bfc1)</text><rect class="annr" x="69.8" y="79.8" width="8.4" height="3"/><text class="ann" x="79.7" y="82.5">optimizer</text></g>
</g>
<g id="nodes-B2" transform="translate(781.5,635.2)">
<g id="B2-Assign"><ellipse class="op" cx="43" cy="52.8" rx="5.2" ry="2.05"/><text class="lbl" x="43" y="48.7">Assign</text></g>
<g id="B2-read"><ellipse class="op" cx="76.7" cy="52.8" rx="5.2" ry="2.05"/><text class="lbl" x="76.7" y="48.7">read</text></g>
<g id="B2-Adam"><rect class="teal" x="87.5" y="47.3" width="41.8" height="11.2" rx="2.5"/><text class="mn" x="108.4" y="54.95">Adam</text><rect class="annr" x="136.6" y="51.4" width="8.3" height="3"/><text class="ann" x="146" y="54.1">optimizer</text></g>
<g id="B2-Adam_1"><rect class="teal" x="168" y="47.3" width="41.7" height="11.2" rx="2.5"/><text class="mn" x="188.9" y="54.95">Adam_1</text><rect class="annr" x="217" y="51.4" width="8.4" height="3"/><text class="ann" x="226.6" y="54.1">optimizer</text></g>
<g id="B2-Initializer"><rect class="tan" x="7.1" y="75.7" width="41.7" height="11.2" rx="2.5"/><text class="mn" x="28" y="83.35">Initializer</text></g>
<g id="B2-var"><ellipse class="op" cx="57.5" cy="81.3" rx="5.2" ry="2.05"/><text class="lbl" x="57.5" y="77.2">(B2)</text><rect class="annr" x="69.8" y="79.8" width="8.4" height="3"/><text class="ann" x="79.7" y="82.5">optimizer</text></g>
</g>
<g id="nodes-B1" transform="translate(578.7,774.5)">
<g id="B1-Assign"><ellipse class="op" cx="43" cy="52.8" rx="5.2" ry="2.05"/><text class="lbl" x="43" y="48.7">Assign</text></g>
<g id="B1-read"><ellipse class="op" cx="76.7" cy="52.8" rx="5.2" ry="2.05"/><text class="lbl" x="76.7" y="48.7">read</text></g>
<g id="B1-Adam"><rect class="teal" x="87.5" y="47.3" width="41.8" height="11.2" rx="2.5"/><text class="mn" x="108.4" y="54.95">Adam</text><rect class="annr" x="136.6" y="51.4" width="8.3" height="3"/><text class="ann" x="146" y="54.1">optimizer</text></g>
<g id="B1-Adam_1"><rect class="teal" x="168" y="47.3" width="41.7" height="11.2" rx="2.5"/><text class="mn" x="188.9" y="54.95">Adam_1</text><rect class="annr" x="217" y="51.4" width="8.4" height="3"/><text class="ann" x="226.6" y="54.1">optimizer</text></g>
<g id="B1-Initializer"><rect class="tan" x="7.1" y="75.7" width="41.7" height="11.2" rx="2.5"/><text class="mn" x="28" y="83.35">Initializer</text></g>
<g id="B1-var"><ellipse class="op" cx="57.5" cy="81.3" rx="5.2" ry="2.05"/><text class="lbl" x="57.5" y="77.2">(B1)</text><rect class="annr" x="69.8" y="79.8" width="8.4" height="3"/><text class="ann" x="79.7" y="82.5">optimizer</text></g>
</g>
</g>

</g>
</svg>
